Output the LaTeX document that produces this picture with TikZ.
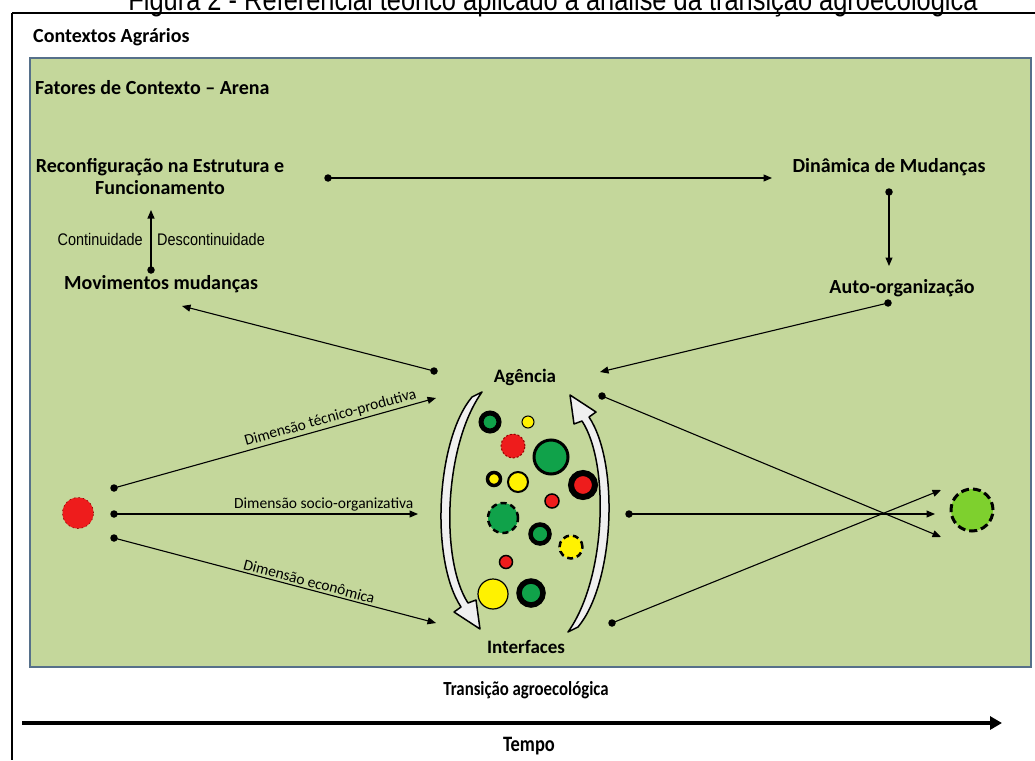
\documentclass[tikz,border=0pt]{standalone}
\usepackage{fontspec}
\setmainfont{Carlito}
\newfontfamily\narrowfont[FakeStretch=0.86]{Liberation Sans}
\newfontfamily\titlefont[FakeStretch=0.82]{Liberation Sans}
\newfontfamily\condfont[FakeStretch=0.84]{Carlito}
\usetikzlibrary{arrows.meta}
\definecolor{arena}{HTML}{C4D79B}
\definecolor{arenaborder}{HTML}{56708A}
\definecolor{cgreen}{HTML}{10A24A}
\definecolor{cred}{HTML}{EE1C1C}
\definecolor{cyellow}{HTML}{FFF200}
\definecolor{clight}{HTML}{7ED02E}
\newcommand{\fsz}[1]{\fontsize{#1}{#1}\selectfont}
\tikzset{
  arr/.style={-{Triangle[length=8.5pt,width=7pt]}, line width=1.1pt},
  dotn/.style={circle, fill=black, inner sep=0pt, minimum size=7.5pt},
  hdr/.style={font=\bfseries\fsz{20}, inner sep=0pt},
  dimlabel/.style={font=\fsz{15.5}, inner sep=2pt, sloped, above},
  bub/.style={circle, inner sep=0pt, draw=black},
  bracketarrow/.style={draw=black, line width=1.5pt, fill=white!88!gray, line join=round}
}
\begin{document}
\begin{tikzpicture}[x=1pt,y=-1pt]
\useasboundingbox (0,0) rectangle (1035,760);
% title (clipped at top)
\node[font=\titlefont\fsz{31}, anchor=base, inner sep=0pt] (title) at (553,11) {Figura 2 - Referencial teórico aplicado à análise da transição agroecológica};
% outer frame
\draw[line width=1.3pt, black] (12,13) -- (1035,13);
\draw[line width=2.5pt, black] (12,13) -- (12,760);
\node[hdr, anchor=base west] (ctx) at (33,42) {Contextos Agrários};
% arena
\draw[fill=arena, draw=arenaborder, line width=2.5pt] (30,58) rectangle (1031,667);
\node[hdr, anchor=base west] (arena) at (35,94) {Fatores de Contexto – Arena};
% top texts
\node[hdr, anchor=base] (reconf) at (160,172) {Reconfiguração na Estrutura e};
\node[hdr, anchor=base] (func) at (160,194) {Funcionamento};
\node[hdr, anchor=base] (dina) at (889,172) {Dinâmica de Mudanças};
\node[hdr, anchor=base] (auto) at (902,293) {Auto-organização};
\node[hdr, anchor=base] (movi) at (161,289) {Movimentos mudanças};
\node[hdr, font=\bfseries\fsz{19}, anchor=base] (agen) at (525,382) {Agência};
\node[hdr, font=\bfseries\fsz{19}, anchor=base] (inter) at (526,653) {Interfaces};
\node[font=\narrowfont\fsz{16.8}, anchor=base east, inner sep=0pt] (cont) at (143,245) {Continuidade};
\node[font=\narrowfont\fsz{16.8}, anchor=base west, inner sep=0pt] (desc) at (157,245) {Descontinuidade};
% dots and ends
\node[dotn] (dR) at (328,178) {};  \coordinate (eR) at (772,178);
\node[dotn] (dD) at (889,192) {};  \coordinate (eD) at (889,266);
\node[dotn] (dA) at (888,303) {};  \coordinate (eA) at (600,372);
\node[dotn] (dM) at (151,270) {};  \coordinate (eM) at (151,210);
\node[dotn] (dG) at (434,371) {};  \coordinate (eG) at (182,306);
\node[dotn] (dL1) at (114,488) {}; \coordinate (eL1) at (436,398);
\node[dotn] (dL2) at (114,514) {}; \coordinate (eL2) at (418,514);
\node[dotn] (dL3) at (114,538) {}; \coordinate (eL3) at (436,623);
\node[dotn] (dR1) at (602,396) {}; \coordinate (eR1) at (941,537);
\node[dotn] (dR2) at (629,514) {}; \coordinate (eR2) at (935,514);
\node[dotn] (dR3) at (612,623) {}; \coordinate (eR3) at (941,490);
\draw[arr] (dR.center) -- (eR);
\draw[arr] (dD.center) -- (eD);
\draw[arr] (dA.center) -- (eA);
\draw[arr] (dM.center) -- (eM);
\draw[arr] (dG.center) -- (eG);
\draw[arr] (dL1.center) -- node[dimlabel, pos=0.68] {Dimensão técnico-produtiva} (eL1);
\draw[arr] (dL2.center) -- node[dimlabel, pos=0.69] {Dimensão socio-organizativa} (eL2);
\draw[arr] (dL3.center) -- node[dimlabel, pos=0.6] {Dimensão econômica} (eL3);
\draw[arr] (dR1.center) -- (eR1);
\draw[arr] (dR2.center) -- (eR2);
\draw[arr] (dR3.center) -- (eR3);
% start and end circles
\node[circle, inner sep=0pt, minimum size=31pt, fill=cred, draw=red!55!black, line width=0.6pt, dash pattern=on 1.5pt off 3pt] (start) at (78,513) {};
\node[circle, inner sep=0pt, minimum size=42pt, fill=clight, draw=black, line width=3pt, dash pattern=on 8pt off 4pt] (goal) at (972,510) {};
% bracket arrows
\newcommand{\bracketshape}{(472,397) .. controls (436,440) and (430,560) .. (461,607) -- (454,612) -- (480,629) -- (476,600) -- (468,603) .. controls (440,560) and (444,445) .. (482,392) -- cycle}
\draw[bracketarrow] \bracketshape;
\draw[bracketarrow, rotate around={180:(525,512)}] \bracketshape;
% bubbles
\node[bub, fill=cgreen, minimum size=18pt, line width=5pt] (b1) at (490,422) {};
\node[bub, fill=cyellow, minimum size=12pt, line width=1pt] (b2) at (528,422) {};
\node[bub, fill=cred, minimum size=24pt, draw=red!60!black, line width=1pt, dash pattern=on 2pt off 2pt] (b3) at (513,446) {};
\node[bub, fill=cgreen, minimum size=34pt, line width=3pt] (b4) at (551,457) {};
\node[bub, fill=cyellow, minimum size=13pt, line width=3.5pt] (b5) at (494,479) {};
\node[bub, fill=cyellow, minimum size=20pt, line width=2pt] (b6) at (518,482) {};
\node[bub, fill=cred, minimum size=24pt, line width=6pt] (b7) at (583,485) {};
\node[bub, fill=cred, minimum size=14pt, line width=1.5pt] (b8) at (552,501) {};
\node[bub, fill=cgreen, minimum size=30pt, line width=2.5pt, dash pattern=on 6pt off 4pt] (b9) at (503,518) {};
\node[bub, fill=cgreen, minimum size=19pt, line width=4.5pt] (b10) at (540,534) {};
\node[bub, fill=cyellow, minimum size=23pt, line width=2.5pt, dash pattern=on 6pt off 4pt] (b11) at (571,547) {};
\node[bub, fill=cred, minimum size=13pt, line width=1.5pt] (b12) at (506,562) {};
\node[bub, fill=cyellow, minimum size=30pt, line width=1.2pt] (b13) at (493,594) {};
\node[bub, fill=cgreen, minimum size=24pt, line width=5.5pt] (b14) at (531,593) {};
% bottom
\node[font=\condfont\bfseries\fsz{20}, anchor=base, inner sep=0pt] (trans) at (526,695) {Transição agroecológica};
\coordinate (t0) at (22,723);
\coordinate (t1) at (1002,723);
\draw[line width=4pt, -{Triangle[length=12pt,width=13pt]}] (t0) -- (t1);
\node[font=\condfont\bfseries\fsz{22}, anchor=base, inner sep=0pt] (tempo) at (529,751) {Tempo};
\end{tikzpicture}
\end{document}
